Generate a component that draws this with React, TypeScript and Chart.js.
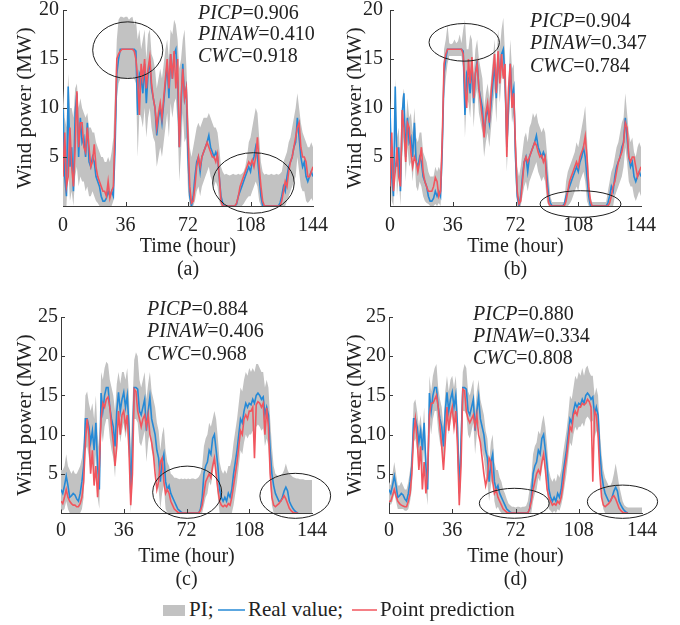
import React, { useEffect, useRef } from "react";
import { Chart, registerables } from "chart.js";
Chart.register(...registerables);

// ---------- data (hourly, MW) ----------
const HOURS_FULL = Array.from({ length: 145 }, (_, i) => i);

const REAL_AB = [
  10, 3, 1, 12.2, 4, 6, 1.5, 9.5, 11.5, 5,
  9, 6.5, 7, 5, 8.5, 4.5, 4, 5, 4.5, 3,
  2.5, 2, 1, 0.5, 0.5, 0.8, 1.5, 1, 1.5, 1,
  6, 13.5, 15, 16, 16, 16, 16, 16, 16, 16,
  16, 16, 15.8, 9.3, 13.5, 13, 11.5, 14.5, 10.5, 13.5,
  14.8, 12, 11, 10, 7.2, 9, 10, 8.5, 10.5, 12.5,
  14.5, 11, 15.5, 13, 15.5, 16, 13, 6, 10, 14.5,
  11, 12, 5, 1, 0, 1, 3, 4.5, 5, 3.5,
  5, 5.5, 6, 6.5, 7.2, 6, 5.5, 5, 5.5, 5,
  3, 1, 0.3, 0, 0, 0, 0, 0, 0, 0,
  0.2, 1, 1.5, 2, 2.5, 3, 3.5, 4, 3.5, 4.5,
  5, 6, 5, 3, 1, 0, 0, 0, 0, 0,
  0, 0, 0, 0, 0, 0.3, 1, 2, 1.5, 3,
  4, 4.5, 5, 6, 6.5, 9, 7, 5, 4, 4.5,
  3, 2.5, 3, 3.5, 3,
];

const PRED_A = [
  3, 7.5, 2, 3, 8, 4, 2, 6, 11.7, 6,
  8.5, 8.5, 6, 5.5, 8, 6, 4, 4.5, 6.3, 4,
  3, 2.5, 2, 1.5, 1.5, 1, 2.5, 0.8, 1.5, 2,
  8, 15, 15.5, 15.8, 16, 16, 16, 16, 16, 16,
  16, 15.8, 15, 13, 9.3, 14.5, 13, 15, 12, 14,
  15.2, 12.5, 11, 10, 8, 9.5, 10.5, 9, 11, 13,
  15, 12, 15.5, 13, 15.8, 12, 15, 6, 11, 14,
  11, 12, 7, 2, 0.3, 0.5, 2, 4, 5, 4,
  5, 5.5, 6, 6.5, 6, 5.5, 5, 5, 4.5, 5.3,
  3, 0.5, 0, 0, 0, 0, 0, 0, 0, 0,
  0.3, 1, 2, 2.5, 3, 3.5, 4, 4.5, 4.2, 4.7,
  4, 5, 7, 4, 2, 0.5, 0, 0, 0, 0,
  0, 0, 0, 0, 0, 0, 0.5, 1.5, 2.5, 2,
  3.5, 4.5, 5, 6, 7, 8, 8.5, 6, 5, 5,
  4.5, 3, 3, 3.5, 4,
];

const PRED_B = [
  2, 7.5, 1.5, 3.5, 6, 3, 2, 9.8, 8, 4.5,
  8.5, 8, 5.5, 4, 5, 4.5, 3.5, 4.5, 6, 3.5,
  2.5, 2, 1.5, 1.5, 1.5, 2, 2.9, 2.5, 1, 1.5,
  7, 14.5, 15.5, 16, 16, 16, 16, 16, 16, 16,
  16, 16, 15.5, 12, 10, 15, 12.5, 15.2, 11, 13.5,
  14.5, 12, 10.5, 9, 7, 9.5, 10.5, 8.5, 11.5, 13.5,
  15.5, 11.5, 15.8, 12.5, 15.5, 13, 14.5, 5, 12, 14.5,
  10, 11.5, 6, 1.5, 0.2, 0.5, 2.5, 4.5, 5, 4.5,
  5, 5.5, 6, 6.5, 6.2, 5.5, 5, 5.2, 4.5, 5,
  2, 0.3, 0, 0, 0, 0, 0, 0, 0, 0,
  0, 0.5, 1.5, 2.5, 3, 3.5, 4, 4.5, 4, 5,
  5.5, 6, 7.1, 5, 2, 0.5, 0, 0, 0, 0,
  0, 0, 0, 0, 0, 0, 0.3, 1, 2, 2.5,
  3.5, 4.5, 5, 5.5, 6.5, 8.5, 8, 5, 4.5, 5,
  5, 4, 3, 3.5, 4,
];

const UPPER_A = [
  12, 9, 8, 13.5, 10, 10, 9, 12, 12.5, 10,
  11, 10, 9.5, 9, 9.5, 8, 8, 7.5, 7.5, 6.5,
  6, 5.5, 5, 5, 4.5, 4.5, 5, 4.5, 5.5, 7,
  12, 17, 19, 19.3, 19.3, 19.2, 19.3, 19.3, 19, 19.2,
  19.3, 18.5, 19, 17, 18, 16, 17, 18, 15, 17.5,
  18, 15.5, 15, 14, 12, 13, 14, 13, 14.5, 16,
  17, 15, 18, 17.5, 19, 18.5, 17, 14, 15, 17,
  18, 14.5, 10, 6, 5, 6, 7, 8, 8.5, 8,
  8.5, 9, 9, 9, 9.5, 9, 8.5, 8, 8, 7.5,
  6, 4, 3.5, 3.2, 3.3, 3.2, 3.1, 3.2, 3.3, 3.2,
  3.2, 3.3, 3.2, 3.3, 3.5, 4, 5, 6.5, 7, 8,
  9, 10, 9.5, 7, 4.5, 3.5, 3.2, 3.3, 3.2, 3.2,
  3.3, 3.2, 3.2, 3.3, 3.2, 3.3, 3.5, 4.5, 5, 5.5,
  6.5, 7, 8, 9, 10, 11.5, 10, 8.5, 7.5, 7,
  6.5, 6, 6, 6.5, 6,
];

const LOWER_A = [
  0, 0, 0, 4, 0.5, 1.5, 0, 3, 4, 2,
  3, 2.5, 2.5, 1.5, 2, 1, 1, 1.5, 1, 0.5,
  0.3, 0, 0, 0, 0, 0, 0, 0, 0, 0.5,
  5, 11, 12.5, 13, 13, 13, 13, 13, 13, 13,
  13.2, 13, 12.5, 5, 9.5, 9, 8, 10, 7, 9,
  10, 8, 7, 6.5, 4, 5, 6, 5, 6.5, 8,
  9.5, 7, 10.5, 9, 10.5, 11, 8.5, 2.5, 5.5, 9.5,
  6.5, 7, 1.5, 0, 0, 0, 0.5, 1.5, 2, 1,
  2, 2.5, 3, 3.5, 4, 3, 2.5, 2, 2.5, 2,
  0.5, 0, 0, 0, 0, 0, 0, 0, 0, 0,
  0, 0, 0, 0, 0.2, 0.5, 0.8, 1, 1, 1.5,
  2, 2.5, 2, 0.5, 0, 0, 0, 0, 0, 0,
  0, 0, 0, 0, 0, 0, 0, 0, 0, 0.5,
  1, 1.5, 2, 2.5, 3, 5, 3.5, 2, 1.5, 1.5,
  0.5, 0.3, 0.5, 0.8, 0.5,
];

const UPPER_B = [
  11, 6, 4, 13, 7, 8, 4, 11, 12, 8,
  11, 9, 9.5, 7.5, 10, 7, 6.5, 7.5, 7.5, 5.5,
  5, 4.5, 3.5, 3, 3, 3, 4, 3.5, 4, 3.5,
  9, 16, 17, 18.5, 16.6, 16.5, 16.6, 17, 16.6, 16.8,
  17.5, 16.6, 18, 19, 16, 16, 17.5, 17, 13.5, 16,
  17, 15, 14, 13, 10, 11.5, 12.5, 11, 13, 15,
  17, 14, 18, 16, 18, 19.2, 15.5, 9, 13, 17,
  14, 14.5, 8, 4, 3, 4, 5.5, 7, 7.5, 6.5,
  8, 8.5, 9.5, 9, 9.5, 8.5, 8, 7.5, 8, 7.5,
  5.5, 3, 1, 0.4, 0.4, 0.4, 0.4, 0.4, 0.4, 0.4,
  0.4, 2.5, 3.5, 4, 4.5, 5, 5.5, 6.5, 6, 7,
  8, 9, 10.2, 7, 3.5, 1, 0.4, 0.4, 0.4, 0.4,
  0.4, 0.4, 0.4, 0.4, 0.4, 1.5, 2.5, 3.5, 4, 5,
  6, 6.5, 7.5, 8.5, 9, 11.5, 9.5, 7.5, 6.5, 7,
  5.5, 5, 6, 6.5, 6,
];

const LOWER_B = [
  5, 0.5, 0, 7, 1, 3, 0, 5, 7, 2.5,
  6, 4, 4.5, 2.5, 5, 2, 1.5, 2.5, 2, 1,
  0.5, 0.3, 0.2, 0, 0, 0, 0.2, 0, 0.3, 0,
  3.5, 11, 13, 14.5, 15.3, 15.3, 15.3, 15.3, 15.3, 15.3,
  15.3, 15.3, 14, 7, 11, 10.5, 9, 12, 8, 11,
  12, 9.5, 8.5, 7.5, 5, 6.5, 7.5, 6, 8, 10,
  12, 8.5, 13, 10.5, 13, 13.5, 10.5, 3.5, 7.5, 12,
  8.5, 9.5, 2.5, 0, 0, 0, 1, 2, 2.5, 1.5,
  2.5, 3, 3.5, 4, 4.5, 3.5, 3, 2.5, 3, 2.5,
  0.5, 0, 0, 0, 0, 0, 0, 0, 0, 0,
  0, 0, 0, 0.2, 0.5, 1, 1.5, 2, 1.5, 2.5,
  3, 3.5, 2.5, 0.5, 0, 0, 0, 0, 0, 0,
  0, 0, 0, 0, 0, 0, 0, 0, 0, 1,
  1.5, 2, 2.5, 3, 4, 6, 4.5, 2.5, 2, 2,
  1, 0.5, 1, 1.5, 1,
];

const REAL_CD = [
  3, 2.5, 3.5, 4.7, 3.5, 2, 2.2, 2.5, 2.3, 1.8,
  1.5, 2.5, 4, 6, 12, 12, 11, 9, 10.5, 8,
  11.5, 6, 3, 15.3, 13, 15, 16, 16, 13.5, 12,
  11, 8.5, 13, 15.4, 13, 14.5, 15.4, 13.5, 15, 11,
  2.5, 9, 16, 16, 15.8, 13, 12.5, 13.5, 14.5, 10.5,
  13, 14.8, 12, 11, 10, 8, 7, 4, 6.5, 7.5,
  4, 3, 3.5, 2.5, 2, 1.5, 1, 0.5, 0.3, 0.1,
  0, 0, 0, 0, 0, 0, 0, 0, 0, 0,
  0.5, 2, 5, 6, 6.5, 8, 7.5, 9.5, 10, 8,
  6, 3, 2, 1.5, 2, 1.5, 2.5, 2, 3, 5,
  6.5, 8, 10, 12, 11.5, 13, 14, 13.5, 14, 13.8,
  14.5, 14, 15, 15.3, 15, 14.5, 14.8, 12.5, 13.5, 12.5,
  8, 5, 3.5, 2.5, 2, 1.5, 1.5, 2, 2.8, 3.3,
  2.8, 1.5, 1, 0.6, 0.3, 0.1, 0,
];

const PRED_C = [
  1.5, 1.2, 2, 3, 2, 1.5, 1.2, 1, 1, 0.8,
  0.8, 1.2, 2, 4, 9, 12, 10, 5, 8, 3.5,
  6, 2, 6, 12, 14, 13.5, 14.5, 14.8, 13.5, 11,
  9, 6, 8.5, 13, 10, 12.5, 13, 11, 12.5, 8,
  1, 5, 15.8, 15.5, 13, 12, 11, 12, 12.5, 11,
  12.5, 10, 9, 7.5, 5, 3, 4, 6.5, 7, 4,
  2.5, 3, 2.5, 1.5, 1, 0.5, 0.3, 0.1, 0, 0,
  0, 0, 0, 0, 0, 0, 0, 0, 0, 0,
  0.3, 1, 2.5, 4, 4.5, 5, 4.5, 6, 7, 5,
  3, 1.5, 1, 0.8, 1, 0.8, 1.2, 1, 2, 3.5,
  5, 6.5, 8.5, 10.5, 10, 12, 12.5, 12, 13, 13,
  13.5, 7, 13.8, 14.2, 14, 13.5, 14, 10, 13.4, 11,
  5, 2, 1, 0.8, 1, 1.2, 1.5, 1.8, 2.2, 1.8,
  1.2, 0.6, 0.3, 0.1, 0, 0, 0,
];

const PRED_D = [
  1.5, 1.5, 2.2, 3, 2.2, 1.5, 1.2, 1, 0.9, 0.8,
  0.8, 1.5, 2.5, 5, 10, 12, 9.5, 5.5, 8.5, 3,
  6.5, 2.5, 5.5, 12.5, 14, 14, 14.5, 15, 13.5, 11,
  8.5, 5.5, 9, 13.5, 10.5, 12.5, 13.5, 11, 13, 8.5,
  1, 6, 15.8, 15.6, 13, 12, 11.5, 12, 12.5, 11,
  12.5, 10, 9, 7, 5, 3.5, 4.5, 7, 6.5, 4,
  2.5, 3, 2, 1.5, 1, 0.5, 0.3, 0.1, 0, 0,
  0, 0, 0, 0, 0, 0, 0, 0, 0, 0,
  0.5, 1.5, 3, 4, 5, 5.5, 5, 6.5, 7.5, 5.5,
  3, 2, 1.5, 1, 1.2, 1, 1.5, 1.2, 2, 3.5,
  5.5, 7, 9, 11, 10.5, 12.5, 13, 12.5, 13.5, 13.5,
  14, 13.8, 14, 14.5, 14.2, 13.5, 4, 13, 12.5, 10,
  5, 2, 1, 0.8, 1, 1.2, 1.5, 2, 2.2, 1.8,
  1.2, 0.6, 0.3, 0.1, 0, 0, 0,
];

const UPPER_C = [
  5.5, 5.5, 6, 7.5, 6, 5.5, 5, 5.5, 5, 5,
  5.5, 6, 7, 9, 15, 15.5, 14, 13, 14, 12,
  15, 10, 8, 18, 17, 18.5, 19.3, 19, 17, 16,
  15, 13, 16.5, 18, 16.5, 18, 18, 17, 18.5, 15,
  8, 14, 19.5, 20.5, 20, 17, 16, 17, 18, 14.5,
  16.5, 18, 15.5, 14.5, 13.5, 11.5, 10.5, 8, 10, 11,
  8, 6.5, 6, 5, 4.8, 4.5, 4.5, 4.4, 4.3, 4.4,
  4.3, 4.4, 4.3, 4.4, 4.3, 4.4, 4.4, 4.3, 4.4, 4.6,
  5, 6, 8.5, 9.5, 10, 11.5, 11, 12, 13, 12,
  9.5, 6.5, 5.5, 5, 5.5, 5, 6, 6, 7, 9,
  10.5, 12, 14, 16, 15.5, 17, 18, 17.5, 18.5, 18,
  18.5, 18, 19, 19, 18.5, 18, 18, 16, 17, 16,
  12, 8.5, 6, 5, 4.8, 4.6, 4.8, 5, 5.5, 6.3,
  5.5, 5, 4.8, 4.6, 4.5, 4.4, 4.4, 4.3, 4.3, 4.3,
  4.2, 4.2, 4.2, 4.2, 4.2,
];

const LOWER_C = [
  0.5, 0.3, 0.5, 1.5, 0.5, 0, 0, 0, 0, 0,
  0, 0, 0.5, 2, 8, 8.5, 7, 5, 6.5, 4,
  7.5, 2, 0.5, 11, 9, 11, 12, 12, 9.5, 8,
  7, 4.5, 9, 11.5, 9, 10.5, 11.5, 9.5, 11, 7,
  0, 4, 12, 12, 11.5, 9, 8.5, 9.5, 10.5, 6.5,
  9, 10.5, 8, 7, 6, 4, 3, 0.5, 2.5, 3.5,
  0.5, 0, 0, 0, 0, 0, 0, 0, 0, 0,
  0, 0, 0, 0, 0, 0, 0, 0, 0, 0,
  0, 0, 1, 2, 2.5, 4, 3.5, 5, 6.5, 4.5,
  2, 0, 0, 0, 0, 0, 0, 0, 0, 1,
  2.5, 4, 6, 8, 7.5, 9, 10, 9.5, 10, 10,
  10.5, 10, 11, 11.3, 11, 10.5, 10.8, 8.5, 9.5, 8.5,
  4, 1, 0, 0, 0, 0, 0, 0, 0, 0,
  0, 0, 0, 0, 0, 0, 0, 0, 0, 0,
  0, 0, 0, 0, 0,
];

const UPPER_D = [
  4, 3.5, 5, 6.5, 5, 3.5, 3.5, 4, 3.5, 3,
  3, 4, 5.5, 8, 14, 14.5, 13, 11, 12.5, 10,
  13.5, 8, 5, 17.5, 15.5, 17.5, 18.5, 19, 16, 14.5,
  13.5, 11, 15.5, 17.5, 15.5, 17, 17.5, 16, 17.5, 13.5,
  5, 12, 18, 19, 18.5, 15.5, 15, 16, 17, 13,
  15.5, 17, 14.5, 13.5, 12.5, 10.5, 9.5, 6.5, 9, 10,
  6.5, 5.5, 5.5, 4.5, 4, 3, 2.5, 1.8, 1.2, 1,
  0.8, 0.8, 0.7, 0.8, 0.8, 0.7, 0.8, 0.8, 0.9, 1.5,
  3, 4.5, 7.5, 8.5, 9, 10.5, 10, 11.5, 12.5, 11,
  8.5, 5.5, 4.5, 4, 4.5, 4, 5, 4.5, 5.5, 7.5,
  9, 10.5, 12.5, 15, 14.5, 16, 17.5, 17, 18, 17.5,
  18.5, 17.5, 18.5, 18.8, 18, 17.5, 17.5, 15, 16, 15,
  10.5, 7.5, 5.5, 4.5, 4, 3.5, 3.5, 4, 5, 6.3,
  5, 3.5, 2.5, 1.5, 1, 0.8, 0.7, 0.7, 0.7, 0.7,
  0.7, 0.7, 0.7, 0.7, 0.7,
];

const LOWER_D = [
  1.5, 1, 1.5, 2.5, 1.5, 0.5, 0.5, 0.5, 0.5, 0.3,
  0.3, 0.5, 1.5, 3, 9, 9.5, 8, 6, 7.5, 5,
  8.5, 3, 1, 12, 10, 12, 13, 13, 10.5, 9,
  8, 5.5, 10, 12.5, 10, 11.5, 12.5, 10.5, 12, 8,
  0.5, 5.5, 13, 13, 12.5, 10, 9.5, 10.5, 11.5, 7.5,
  10, 11.5, 9, 8, 7, 5, 4, 1.5, 3.5, 4.5,
  1.5, 0.5, 0.8, 0.3, 0, 0, 0, 0, 0, 0,
  0, 0, 0, 0, 0, 0, 0, 0, 0, 0,
  0, 0, 1.5, 2.5, 3, 4.5, 4, 5.5, 7, 5,
  2.5, 0.5, 0.3, 0, 0.3, 0, 0.5, 0.3, 1, 2,
  3.5, 5, 7, 9, 8.5, 10, 11, 10.5, 11, 11,
  11.5, 11, 12, 12.3, 12, 11.5, 11.8, 9.5, 10.5, 9.5,
  5, 2, 0.5, 0, 0, 0, 0, 0, 0, 0,
  0, 0, 0, 0, 0, 0, 0, 0, 0, 0,
  0, 0, 0, 0, 0,
];

const X_TICK_STEP = 36;
const STATS_A = [["PICP", "0.906"], ["PINAW", "0.410"], ["CWC", "0.918"]];
const STATS_B = [["PICP", "0.904"], ["PINAW", "0.347"], ["CWC", "0.784"]];
const STATS_C = [["PICP", "0.884"], ["PINAW", "0.406"], ["CWC", "0.968"]];
const STATS_D = [["PICP", "0.880"], ["PINAW", "0.334"], ["CWC", "0.808"]];

// ellipse annotations in data units: [centre hour, centre MW, half-width hours, half-height MW]
const ELLIPSES_A = [[37.3, 15.9, 20.2, 2.89], [109.7, 2.35, 23.5, 3.09]];
const ELLIPSES_B = [[42.6, 16.7, 20.2, 1.92], [109.3, 0.2, 23.2, 1.36]];
const ELLIPSES_C = [[72.4, 2.65, 19.8, 3.33], [134.4, 2.19, 20.3, 2.87]];
const ELLIPSES_D = [[71.3, 1.24, 19.9, 1.91], [132.9, 1.44, 20.0, 2.12]];

// ---------- styles ----------
const BLUE = "#2589d6";
const RED = "#f1555e";
const GRAY = "#c2c2c2";
const INK = "#222222";
const AXIS = "#3a3a3a";
const FONT = "'Liberation Serif', 'Times New Roman', serif";

type PanelCfg = {
  left: number; top: number; width: number; height: number;
  padTop: number; padRight: number; yWidth: number;
  yMax: number; yTickPad: number; xTickPad: number; yTitlePad: number;
  real: number[]; pred: number[]; lower: number[]; upper: number[];
  caption: string; ellipses: number[][];
};

function pts(arr: number[]) {
  return arr.map((v, i) => ({ x: HOURS_FULL[i], y: v }));
}

function Panel({ cfg }: { cfg: PanelCfg }) {
  const ref = useRef<HTMLCanvasElement | null>(null);
  useEffect(() => {
    if (!ref.current) return;
    const overlay = {
      id: "overlay",
      afterDraw(chart: any) {
        const ctx = chart.ctx;
        const xs = chart.scales.x;
        const ys = chart.scales.y;
        ctx.save();
        ctx.strokeStyle = AXIS;
        ctx.lineWidth = 1;
        ctx.beginPath();
        for (const t of xs.ticks) {
          if (t.value <= xs.min || t.value >= xs.max) continue;
          const px = Math.round(xs.getPixelForValue(t.value)) + 0.5;
          ctx.moveTo(px, ys.bottom);
          ctx.lineTo(px, ys.bottom - 4);
        }
        for (const t of ys.ticks) {
          if (t.value <= ys.min) continue;
          const py = Math.round(ys.getPixelForValue(t.value)) + 0.5;
          ctx.moveTo(xs.left, py);
          ctx.lineTo(xs.left + 4, py);
        }
        ctx.stroke();
        ctx.strokeStyle = "#1e1e1e";
        ctx.lineWidth = 1;
        for (const e of cfg.ellipses) {
          const cx = xs.getPixelForValue(e[0]);
          const cy = ys.getPixelForValue(e[1]);
          const rx = Math.abs(xs.getPixelForValue(e[0] + e[2]) - cx);
          const ry = Math.abs(ys.getPixelForValue(e[1] + e[3]) - cy);
          ctx.beginPath();
          ctx.ellipse(cx, cy, rx, ry, 0, 0, Math.PI * 2);
          ctx.stroke();
        }
        ctx.restore();
      },
    };
    const fixAxis = (size: number, horizontal: boolean) => (s: any) => {
      if (horizontal) s.height = size; else s.width = size;
      s.paddingLeft = 0; s.paddingRight = 0; s.paddingTop = 0; s.paddingBottom = 0;
    };
    const chart = new Chart(ref.current, {
      type: "line",
      data: {
        datasets: [
          { data: pts(cfg.lower), borderWidth: 0, borderColor: "rgba(0,0,0,0)", pointRadius: 0, fill: false, order: 3 },
          { data: pts(cfg.upper), borderWidth: 0, borderColor: "rgba(0,0,0,0)", pointRadius: 0, fill: "-1", backgroundColor: GRAY, order: 2 },
          { data: pts(cfg.real), borderColor: BLUE, borderWidth: 1.6, pointRadius: 0, fill: false, order: 1 },
          { data: pts(cfg.pred), borderColor: RED, borderWidth: 1.6, pointRadius: 0, fill: false, order: 0 },
        ],
      } as any,
      options: {
        animation: false,
        responsive: false,
        devicePixelRatio: 1,
        events: [],
        layout: { padding: { left: 0, top: cfg.padTop, right: cfg.padRight, bottom: 0 } },
        elements: { line: { tension: 0 } },
        plugins: { legend: { display: false }, tooltip: { enabled: false } },
        scales: {
          x: {
            type: "linear",
            min: 0,
            max: 144,
            afterFit: fixAxis(cfg.height - cfg.padTop - 196, true),
            ticks: {
              stepSize: X_TICK_STEP,
              maxRotation: 0,
              autoSkip: false,
              padding: cfg.xTickPad,
              color: INK,
              font: { family: FONT, size: 20, lineHeight: 1.2 },
            },
            grid: { drawOnChartArea: false, drawTicks: false },
            border: { color: AXIS, width: 1 },
            title: {
              display: true,
              text: ["Time (hour)", cfg.caption],
              color: INK,
              padding: { top: 0, bottom: 0 },
              font: { family: FONT, size: 20, lineHeight: 23 / 20 },
            },
          },
          y: {
            type: "linear",
            min: 0,
            max: cfg.yMax,
            afterFit: fixAxis(cfg.yWidth, false),
            ticks: {
              stepSize: 5,
              padding: cfg.yTickPad,
              color: INK,
              font: { family: FONT, size: 20, lineHeight: 1.2 },
              callback: (v: any) => (v === 0 ? "" : String(v)),
            },
            grid: { drawOnChartArea: false, drawTicks: false },
            border: { color: AXIS, width: 1 },
            title: {
              display: true,
              text: "Wind power (MW)",
              color: INK,
              padding: { top: cfg.yTitlePad, bottom: 0 },
              font: { family: FONT, size: 21, lineHeight: 23 / 21 },
            },
          },
        },
      } as any,
      plugins: [overlay],
    });
    return () => chart.destroy();
  }, [cfg]);
  return (
    <canvas
      ref={ref}
      width={cfg.width}
      height={cfg.height}
      style={{ position: "absolute", left: cfg.left, top: cfg.top, width: cfg.width, height: cfg.height }}
    />
  );
}

const PANELS: PanelCfg[] = [
  { left: 0, top: 0, width: 340, height: 281, padTop: 10, padRight: 27, yWidth: 63, yMax: 20, yTickPad: 4, xTickPad: 8, yTitlePad: 13.5,
    real: REAL_AB, pred: PRED_A, lower: LOWER_A, upper: UPPER_A, caption: "(a)", ellipses: ELLIPSES_A },
  { left: 327, top: 0, width: 340, height: 281, padTop: 10, padRight: 26, yWidth: 63, yMax: 20, yTickPad: 7, xTickPad: 8, yTitlePad: 16.5,
    real: REAL_AB, pred: PRED_B, lower: LOWER_B, upper: UPPER_B, caption: "(b)", ellipses: ELLIPSES_B },
  { left: 0, top: 300, width: 340, height: 291, padTop: 17, padRight: 28, yWidth: 61, yMax: 25, yTickPad: 3, xTickPad: 6, yTitlePad: 13.5,
    real: REAL_CD, pred: PRED_C, lower: LOWER_C, upper: UPPER_C, caption: "(c)", ellipses: ELLIPSES_C },
  { left: 327, top: 300, width: 340, height: 291, padTop: 17, padRight: 25, yWidth: 62, yMax: 25, yTickPad: 3, xTickPad: 6, yTitlePad: 16.5,
    real: REAL_CD, pred: PRED_D, lower: LOWER_D, upper: UPPER_D, caption: "(d)", ellipses: ELLIPSES_D },
];

const STAT_BLOCKS = [
  { left: 198, top: 1.5, lh: 21.5, stats: STATS_A },
  { left: 530, top: 8.5, lh: 22.5, stats: STATS_B },
  { left: 147, top: 296.5, lh: 22.5, stats: STATS_C },
  { left: 473, top: 301.5, lh: 22.3, stats: STATS_D },
];

export default function App() {
  const textBase: React.CSSProperties = {
    position: "absolute",
    fontFamily: FONT,
    fontSize: 21,
    color: INK,
    whiteSpace: "nowrap",
  };
  return (
    <div style={{ position: "absolute", left: 0, top: 0, width: 680, height: 625, background: "#fff", overflow: "hidden" }}>
      {PANELS.map((p, i) => (
        <Panel key={i} cfg={p} />
      ))}
      {STAT_BLOCKS.map((b, i) => (
        <div key={"s" + i} style={{ ...textBase, fontSize: 20, left: b.left, top: b.top, lineHeight: b.lh + "px" }}>
          {b.stats.map(([k, v]) => (
            <div key={k}>
              <i>{k}</i>={v}
            </div>
          ))}
        </div>
      ))}
      {/* legend */}
      <div style={{ position: "absolute", left: 163, top: 605, width: 22, height: 11, background: GRAY }} />
      <div style={{ ...textBase, left: 189, top: 599, lineHeight: "21px" }}>PI;</div>
      <div style={{ position: "absolute", left: 218, top: 609, width: 27, height: 1.5, background: BLUE, opacity: 0.75 }} />
      <div style={{ ...textBase, left: 248, top: 599, lineHeight: "21px" }}>Real value;</div>
      <div style={{ position: "absolute", left: 352, top: 609, width: 25, height: 1.5, background: RED, opacity: 0.75 }} />
      <div style={{ ...textBase, left: 380, top: 599, lineHeight: "21px" }}>Point prediction</div>
    </div>
  );
}
